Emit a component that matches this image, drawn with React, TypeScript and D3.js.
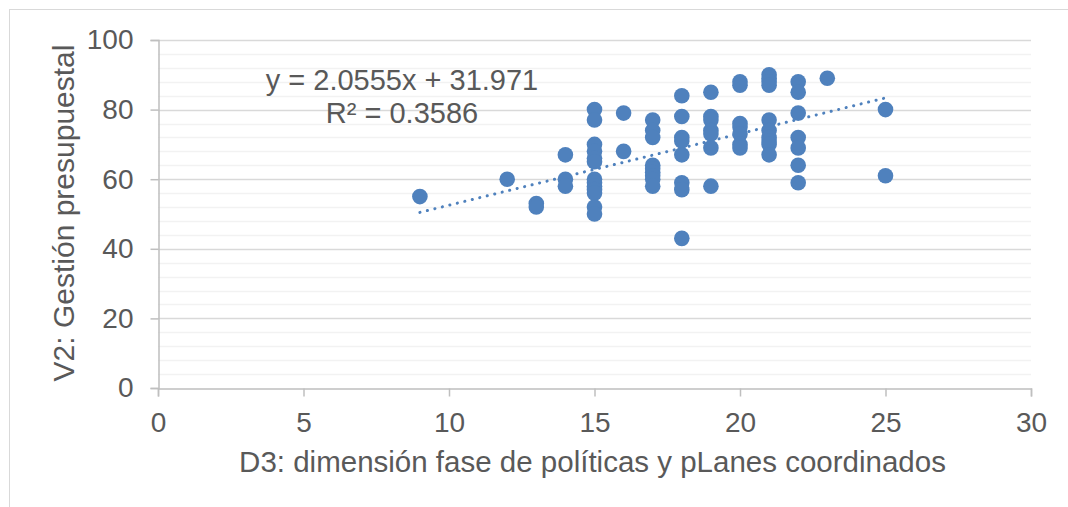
import React, { useEffect, useRef } from "react";
import * as d3 from "d3";

// D3 score per respondent (x) and V2 score (y)
const d3Scores = [
  9, 12, 13, 13,
  14, 14, 14,
  15, 15, 15, 15, 15, 15, 15, 15, 15, 15, 15, 15, 15,
  16, 16,
  17, 17, 17, 17, 17, 17, 17, 17, 17,
  18, 18, 18, 18, 18, 18, 18, 18,
  19, 19, 19, 19, 19, 19, 19,
  20, 20, 20, 20, 20, 20, 20,
  21, 21, 21, 21, 21, 21, 21, 21, 21, 21,
  22, 22, 22, 22, 22, 22, 22,
  23, 25, 25,
];
const v2Scores = [
  55, 60, 53, 52,
  67, 60, 58,
  80, 77, 70, 68, 66, 65, 60, 59, 58, 57, 56, 52, 50,
  79, 68,
  77, 74, 72, 64, 63, 62, 61, 60, 58,
  84, 78, 72, 71, 67, 59, 57, 43,
  85, 78, 77, 74, 73, 69, 58,
  88, 87, 76, 75, 73, 70, 69,
  90, 89, 88, 87, 77, 74, 72, 71, 70, 67,
  88, 85, 79, 72, 69, 64, 59,
  89, 80, 61,
];

const xTicks = [0, 5, 10, 15, 20, 25, 30];
const yTicks = [0, 20, 40, 60, 80, 100];
const yMinorTicks = d3.range(0, 101, 4);

// Excel linear trendline shown on the chart
const slope = 2.0555;
const intercept = 31.971;
const rSquared = 0.3586;
const trendRange = [9, 25];

const xLabel = "D3: dimensión fase de políticas y pLanes coordinados";
const yLabel = "V2: Gestión presupuestal";

const App = () => {
  const chartRef = useRef(null);

  useEffect(() => {
    const width = 1068;
    const height = 507;
    const plot = { left: 158, right: 1031, top: 40, bottom: 388 };
    const blue = "#4F81BD";
    const textColor = "#595959";
    const font = "'Liberation Sans', Arial, sans-serif";

    d3.select(chartRef.current).selectAll("*").remove();

    const svg = d3
      .select(chartRef.current)
      .append("svg")
      .attr("width", width)
      .attr("height", height)
      .style("position", "absolute")
      .style("left", 0)
      .style("top", 0)
      .style("font-family", font);

    svg.append("rect").attr("width", width).attr("height", height).attr("fill", "white");

    // chart area border (runs off the right/bottom of the picture)
    svg
      .append("rect")
      .attr("x", 9.5)
      .attr("y", 9.5)
      .attr("width", width + 20)
      .attr("height", height + 20)
      .attr("fill", "none")
      .attr("stroke", "#D9D9D9");

    const xScale = d3.scaleLinear().domain([0, 30]).range([plot.left, plot.right]);
    const yScale = d3.scaleLinear().domain([0, 100]).range([plot.bottom, plot.top]);

    // minor gridlines
    svg
      .append("g")
      .selectAll("line")
      .data(yMinorTicks.filter((d) => d % 20 !== 0))
      .join("line")
      .attr("x1", plot.left)
      .attr("x2", plot.right)
      .attr("y1", (d) => Math.round(yScale(d)) + 0.5)
      .attr("y2", (d) => Math.round(yScale(d)) + 0.5)
      .attr("stroke", "#F2F2F2")
      .attr("stroke-width", 1.5);

    // major gridlines
    svg
      .append("g")
      .selectAll("line")
      .data(yTicks.filter((d) => d !== 0))
      .join("line")
      .attr("x1", plot.left)
      .attr("x2", plot.right)
      .attr("y1", (d) => Math.round(yScale(d)) + 0.5)
      .attr("y2", (d) => Math.round(yScale(d)) + 0.5)
      .attr("stroke", "#D9D9D9")
      .attr("stroke-width", 1.5);

    // x axis
    const xAxis = svg
      .append("g")
      .attr("transform", `translate(0,${Math.round(plot.bottom) + 0.5})`)
      .call(d3.axisBottom(xScale).tickValues(xTicks).tickSize(8).tickPadding(16));
    xAxis.select(".domain").attr("stroke", "#BFBFBF").attr("stroke-width", 1.5);
    xAxis.selectAll(".tick line").attr("stroke", "#BFBFBF").attr("stroke-width", 1.5);
    xAxis
      .selectAll(".tick text")
      .attr("fill", textColor)
      .style("font-size", "28px")
      .style("font-family", font);

    // y axis
    const yAxis = svg
      .append("g")
      .attr("transform", `translate(${plot.left + 0.5},0)`)
      .call(d3.axisLeft(yScale).tickValues(yTicks).tickSize(8).tickPadding(17));
    yAxis.select(".domain").attr("stroke", "#BFBFBF").attr("stroke-width", 1.5);
    yAxis.selectAll(".tick line").attr("stroke", "#BFBFBF").attr("stroke-width", 1.5);
    yAxis
      .selectAll(".tick text")
      .attr("fill", textColor)
      .style("font-size", "28px")
      .style("font-family", font);

    // axis titles
    svg
      .append("text")
      .attr("x", (plot.left + plot.right) / 2 - 2)
      .attr("y", 472)
      .attr("text-anchor", "middle")
      .attr("fill", textColor)
      .style("font-size", "29.5px")
      .text(xLabel);

    svg
      .append("text")
      .attr("transform", "rotate(-90)")
      .attr("x", -(plot.top + plot.bottom) / 2 + 1)
      .attr("y", 74)
      .attr("text-anchor", "middle")
      .attr("fill", textColor)
      .style("font-size", "30px")
      .text(yLabel);

    // trendline
    svg
      .append("path")
      .datum(trendRange)
      .attr("fill", "none")
      .attr("stroke", blue)
      .attr("stroke-width", 3)
      .attr("stroke-linecap", "round")
      .attr("stroke-dasharray", "0.1 7.6")
      .attr(
        "d",
        d3
          .line()
          .x((d) => xScale(d))
          .y((d) => yScale(slope * d + intercept))
      );

    // points
    svg
      .append("g")
      .selectAll("circle")
      .data(d3Scores.map((x, i) => [x, v2Scores[i]]))
      .join("circle")
      .attr("cx", (d) => xScale(d[0]))
      .attr("cy", (d) => yScale(d[1]))
      .attr("r", 7.8)
      .attr("fill", blue);

    // equation label
    const eq = svg
      .append("text")
      .attr("text-anchor", "middle")
      .attr("fill", textColor)
      .style("font-size", "29px");
    eq.append("tspan").attr("x", 402).attr("y", 90).text(`y = ${slope}x + ${intercept}`);
    eq.append("tspan").attr("x", 402).attr("y", 123).text(`R² = ${rSquared}`);
  }, []);

  return <div ref={chartRef}></div>;
};

export default App;
